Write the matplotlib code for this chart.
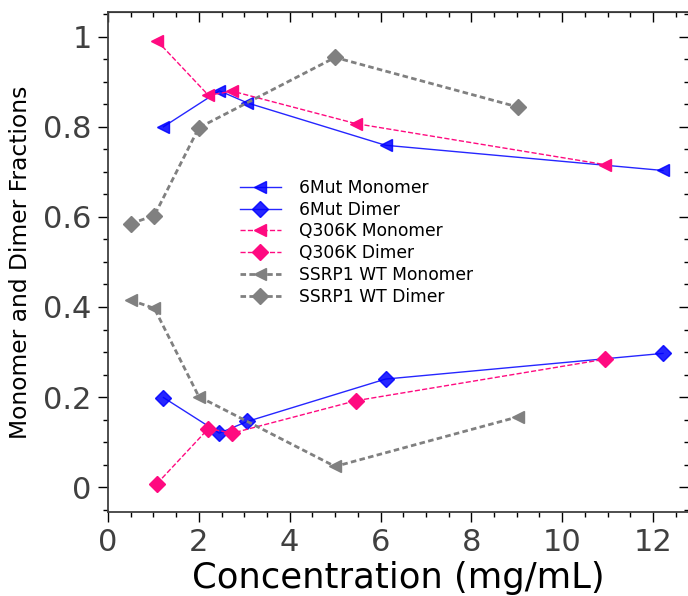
import matplotlib.pyplot as plt
from matplotlib.ticker import MultipleLocator

# concentrations (mg/mL)
conc_6mut = [1.22, 2.45, 3.07, 6.11, 12.22]
conc_q306k = [1.08, 2.21, 2.74, 5.46, 10.94]
conc_wt = [0.5, 1.02, 2.0, 5.0, 9.02]

# fractions
mut_monomer = [0.800, 0.880, 0.853, 0.759, 0.703]
mut_dimer = [0.199, 0.120, 0.146, 0.240, 0.297]
q306k_monomer = [0.991, 0.870, 0.879, 0.807, 0.716]
q306k_dimer = [0.008, 0.130, 0.120, 0.192, 0.284]
wt_monomer = [0.415, 0.397, 0.201, 0.046, 0.156]
wt_dimer = [0.585, 0.603, 0.798, 0.954, 0.844]

blue = '#0000ff'
pink = '#ff0a80'
gray = '#808080'

fig = plt.figure(figsize=(6.88, 5.96), dpi=100)
# right spine sits just past the image edge, like the reference crop
ax = fig.add_axes([0.157, 0.141, 0.845, 0.839])

ax.plot(conc_6mut, mut_monomer, color=blue, ls='-', lw=1, marker='<', ms=9,
        alpha=0.85, markeredgecolor=blue, label='6Mut Monomer')
ax.plot(conc_6mut, mut_dimer, color=blue, ls='-', lw=1, marker='D', ms=8,
        alpha=0.85, markeredgecolor=blue, label='6Mut Dimer')
ax.plot(conc_q306k, q306k_monomer, color=pink, ls='--', lw=1, marker='<', ms=9,
        label='Q306K Monomer')
ax.plot(conc_q306k, q306k_dimer, color=pink, ls='--', lw=1, marker='D', ms=8,
        label='Q306K Dimer')
ax.plot(conc_wt, wt_monomer, color=gray, ls='--', lw=2, dashes=(2, 1.2), marker='<', ms=9,
        label='SSRP1 WT Monomer')
ax.plot(conc_wt, wt_dimer, color=gray, ls='--', lw=2, dashes=(2, 1.2), marker='D', ms=8,
        label='SSRP1 WT Dimer')

ax.set_xlim(0, 12.8)
ax.set_ylim(-0.055, 1.055)

ax.xaxis.set_major_locator(MultipleLocator(2))
ax.xaxis.set_minor_locator(MultipleLocator(0.5))
ax.yaxis.set_minor_locator(MultipleLocator(0.05))
ax.set_yticks([0, 0.2, 0.4, 0.6, 0.8, 1.0])
ax.set_yticklabels(['0', '0.2', '0.4', '0.6', '0.8', '1'])

ax.tick_params(which='major', direction='out', length=7.2, width=1, pad=4.5,
               labelsize=22, labelcolor='#404040', color='black')
ax.tick_params(which='minor', direction='out', length=3.6, width=1, color='black')

# inward ticks on top and right
top = ax.secondary_xaxis('top')
top.xaxis.set_major_locator(MultipleLocator(2))
top.xaxis.set_minor_locator(MultipleLocator(0.5))
top.tick_params(which='major', direction='in', length=7.2, width=1, labeltop=False)
top.tick_params(which='minor', direction='in', length=3.6, width=1)
right = ax.secondary_yaxis('right')
right.yaxis.set_major_locator(MultipleLocator(0.2))
right.yaxis.set_minor_locator(MultipleLocator(0.05))
right.tick_params(which='major', direction='in', length=7.2, width=1, labelright=False)
right.tick_params(which='minor', direction='in', length=3.6, width=1)

for sp in ax.spines.values():
    sp.set_linewidth(1.3)
    sp.set_color('#404040')

ax.set_xlabel('Concentration (mg/mL)', fontsize=25.5, labelpad=3)
ax.set_ylabel('Monomer and Dimer Fractions', fontsize=16.8, labelpad=8)

ax.legend(loc='upper left', bbox_to_anchor=(0.2, 0.697), frameon=False,
          fontsize=12.3, handlelength=2.4, labelspacing=0.22, handletextpad=1.1)

plt.savefig('out.png', dpi=100)
